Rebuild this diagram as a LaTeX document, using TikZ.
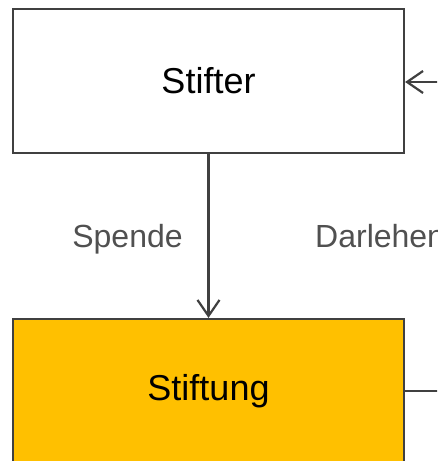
\documentclass[tikz,border=0pt]{standalone}
\usepackage{fontspec}
\setmainfont{Liberation Sans}
\usetikzlibrary{arrows.meta}
\definecolor{edge}{HTML}{404040}
\definecolor{lbl}{HTML}{505050}
\definecolor{gold}{HTML}{FFC000}
\begin{document}
\begin{tikzpicture}[x=1pt,y=-1pt,
  boxstyle/.style={draw=edge,line width=2.2pt,rectangle,minimum width=391pt,minimum height=144pt,inner sep=0pt,font=\fontsize{36}{40}\selectfont,text=black},
  conn/.style={draw=edge,line width=2.2pt},
  tip/.style={-{Straight Barb[length=16pt,width=22pt,line width=2.2pt]}},
  lab/.style={font=\fontsize{32}{36}\selectfont,text=lbl,inner sep=0pt}]
\useasboundingbox (0,0) rectangle (437,461);
\clip (0,0) rectangle (437,461);
\node[boxstyle,fill=white] (stifter) at (208.5,81) {\raisebox{-2pt}{Stifter}};
\node[boxstyle,fill=gold] (stiftung) at (208.5,391) {\raisebox{-2pt}{Stiftung}};
\coordinate (inR) at (470,82);
\coordinate (outR) at (470,391);
\draw[conn,tip] (stifter.south) -- (stiftung.north);
\draw[conn,tip] (inR) -- (stifter.east |- inR);
\draw[conn] (stiftung.east) -- (outR);
\node[lab,anchor=base] (spende) at (127.5,247) {Spende};
\node[lab,anchor=base west] (darlehen) at (315,247) {Darlehen};
\end{tikzpicture}
\end{document}
